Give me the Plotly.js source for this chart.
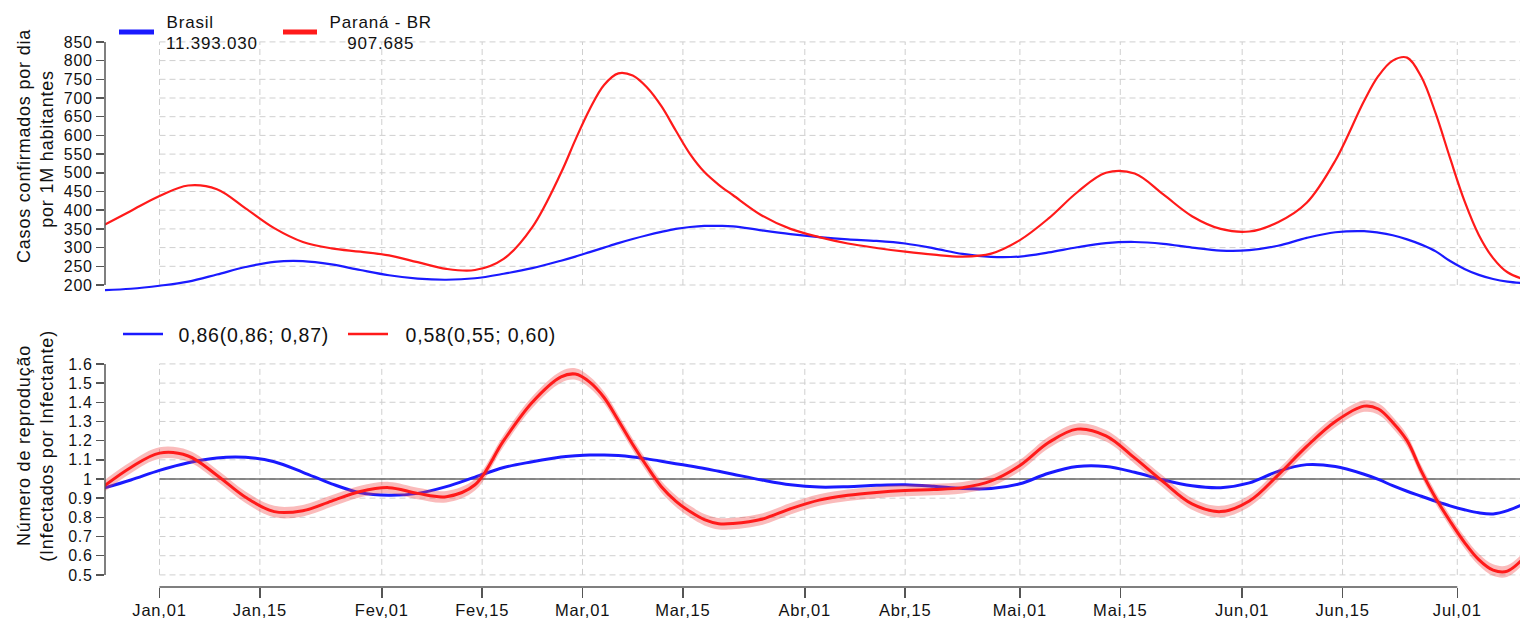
<!DOCTYPE html>
<html>
<head>
<meta charset="utf-8">
<script src="https://cdn.plot.ly/plotly-3.0.1.min.js"></script>
<style>
html,body{margin:0;padding:0;background:#fff;}
#chart{width:1520px;height:621px;}
.main-svg text{letter-spacing:0.8px;}
</style>
</head>
<body>
<div id="chart"></div>
<script>
// ---------------- DATA ----------------
const dates = ['2020-12-24','2020-12-28','2021-01-01','2021-01-05','2021-01-09','2021-01-13','2021-01-17','2021-01-21','2021-01-25','2021-01-29',
  '2021-02-02','2021-02-06','2021-02-10','2021-02-14','2021-02-18','2021-02-22','2021-02-26',
  '2021-02-28','2021-03-02','2021-03-04','2021-03-06','2021-03-08','2021-03-10','2021-03-12','2021-03-14','2021-03-16','2021-03-18','2021-03-20',
  '2021-03-22','2021-03-26','2021-03-30','2021-04-03','2021-04-07','2021-04-11','2021-04-15','2021-04-19','2021-04-23','2021-04-27',
  '2021-05-01','2021-05-05','2021-05-09','2021-05-13','2021-05-17','2021-05-21','2021-05-25','2021-05-29','2021-06-02','2021-06-06',
  '2021-06-10','2021-06-14','2021-06-18',
  '2021-06-20','2021-06-22','2021-06-24','2021-06-26','2021-06-28','2021-06-30','2021-07-02','2021-07-04','2021-07-06','2021-07-08',
  '2021-07-12'];

// Casos confirmados por dia por 1M habitantes
const casosBrasil = [186,190,198,209,228,248,262,264,255,240,226,217,214,218,230,245,265,
  276,288,300,312,323,333,342,350,355,358,358,
  357,346,336,328,322,318,311,298,283,275,276,287,301,312,315,310,300,292,293,305,326,341,344,
  340,333,322,308,290,264,243,227,216,209,
  202];
const casosParana = [358,398,438,466,456,405,352,315,298,289,279,261,243,240,270,355,500,
  588,670,735,766,760,728,678,613,550,502,468,
  440,386,350,328,311,299,289,281,276,284,320,378,448,500,498,442,384,350,343,368,420,533,692,
  759,800,808,756,658,539,425,334,272,234,
  205];

// Número de reprodução
const rtBrasil = [0.950,0.995,1.045,1.085,1.110,1.113,1.090,1.035,0.975,0.928,0.915,0.925,0.960,1.010,1.060,1.090,1.115,
  1.121,1.125,1.125,1.122,1.115,1.105,1.093,1.080,1.068,1.055,1.040,
  1.025,0.995,0.970,0.958,0.960,0.967,0.970,0.962,0.950,0.950,0.975,1.030,1.065,1.065,1.035,0.995,0.965,0.955,0.980,1.040,1.075,1.065,1.025,
  0.998,0.965,0.936,0.910,0.884,0.860,0.840,0.824,0.818,0.835,
  0.900];
const rtParana = [0.955,1.060,1.135,1.120,1.020,0.905,0.830,0.835,0.885,0.935,0.955,0.925,0.908,0.970,1.200,1.400,1.532,
  1.547,1.505,1.425,1.305,1.180,1.065,0.960,0.885,0.830,0.788,0.767,
  0.768,0.790,0.845,0.890,0.915,0.930,0.940,0.945,0.955,0.990,1.070,1.190,1.260,1.225,1.110,0.985,0.870,0.830,0.885,1.020,1.170,1.300,1.380,
  1.365,1.295,1.200,1.040,0.900,0.780,0.670,0.580,0.525,0.520,
  0.660];
const rtParanaUpper = [0.985,1.090,1.165,1.150,1.050,0.935,0.860,0.865,0.915,0.965,0.985,0.955,0.938,1.000,1.230,1.430,1.562,
  1.577,1.535,1.455,1.335,1.210,1.095,0.990,0.915,0.860,0.818,0.797,
  0.798,0.820,0.875,0.920,0.945,0.960,0.970,0.975,0.985,1.020,1.100,1.220,1.290,1.255,1.140,1.015,0.900,0.860,0.915,1.050,1.200,1.330,1.410,
  1.395,1.325,1.230,1.070,0.930,0.810,0.700,0.610,0.555,0.550,
  0.690];
const rtParanaLower = [0.925,1.030,1.105,1.090,0.990,0.875,0.800,0.805,0.855,0.905,0.925,0.895,0.878,0.940,1.170,1.370,1.502,
  1.517,1.475,1.395,1.275,1.150,1.035,0.930,0.855,0.800,0.758,0.737,
  0.738,0.760,0.815,0.860,0.885,0.900,0.910,0.915,0.925,0.960,1.040,1.160,1.230,1.195,1.080,0.955,0.840,0.800,0.855,0.990,1.140,1.270,1.350,
  1.335,1.265,1.170,1.010,0.870,0.750,0.640,0.550,0.495,0.490,
  0.630];

const seriesNames = ['Brasil','Paraná - BR'];
const totalCases = ['11.393.030','907.685'];
const rtLegend = ['0,86(0,86; 0,87)','0,58(0,55; 0,60)'];

const tickDates = ['2021-01-01','2021-01-15','2021-02-01','2021-02-15','2021-03-01','2021-03-15','2021-04-01','2021-04-15','2021-05-01','2021-05-15','2021-06-01','2021-06-15','2021-07-01'];
const tickText = ['Jan,01','Jan,15','Fev,01','Fev,15','Mar,01','Mar,15','Abr,01','Abr,15','Mai,01','Mai,15','Jun,01','Jun,15','Jul,01'];
const casosTicks = [200,250,300,350,400,450,500,550,600,650,700,750,800,850];
const rtTicks = [0.5,0.6,0.7,0.8,0.9,1,1.1,1.2,1.3,1.4,1.5,1.6];
const rtTickText = ['0.5','0.6','0.7','0.8','0.9','1','1.1','1.2','1.3','1.4','1.5','1.6'];

// ---------------- LAYOUT GEOMETRY ----------------
const W = 1520, H = 621;
const py = p => 1 - p / H;   // pixel row -> paper y
const px = p => p / W;       // pixel col -> paper x
const DAY = 86400000;
const jan1 = Date.UTC(2021,0,1);
const x0px = 159.5, pxPerDay = 7.17, leftPx = 105;
const xRange = [jan1 + (leftPx - x0px)/pxPerDay*DAY, jan1 + (W - x0px)/pxPerDay*DAY];

const topVal = p => 200 + (285 - p) / 0.374;
const topDom = [py(296), py(36)];
const topRange = [topVal(296), topVal(36)];
const botVal = p => 1 + (479 - p) / 191.8;
const botDom = [py(587), py(355)];
const botRange = [botVal(587), botVal(355)];

const BLUE = '#1a1aff', RED = '#ff1a1a';
const FONT = 'Liberation Sans, Arial, sans-serif';
const TXT = '#111';
const AXC = '#555';
const GRID = '#cfcfcf';
const SM = 1;

const traces = [
  {x: dates, y: casosBrasil, xaxis:'x', yaxis:'y', mode:'lines', line:{color:BLUE, width:2.2, shape:'spline', smoothing:SM}},
  {x: dates, y: casosParana, xaxis:'x', yaxis:'y', mode:'lines', line:{color:RED, width:2.2, shape:'spline', smoothing:SM}},
  {x: dates, y: rtBrasil, xaxis:'x', yaxis:'y2', mode:'lines', line:{color:BLUE, width:3, shape:'spline', smoothing:SM}},
  {x: dates, y: rtParanaLower, xaxis:'x', yaxis:'y2', mode:'lines', line:{width:0, shape:'spline', smoothing:SM}},
  {x: dates, y: rtParanaUpper, xaxis:'x', yaxis:'y2', mode:'lines', fill:'tonexty', fillcolor:'rgba(240,60,60,0.35)', line:{width:0, shape:'spline', smoothing:SM}},
  {x: dates, y: rtParana, xaxis:'x', yaxis:'y2', mode:'lines', line:{color:RED, width:3, shape:'spline', smoothing:SM}}
];

const shapes = [];
const dash = '6px,4px';
tickDates.forEach(d => {
  shapes.push({type:'line', layer:'below', xref:'x', yref:'y', x0:d, x1:d, y0:casosTicks[0], y1:casosTicks[casosTicks.length-1], line:{color:GRID, width:1, dash:dash}});
  shapes.push({type:'line', layer:'below', xref:'x', yref:'y2', x0:d, x1:d, y0:rtTicks[0], y1:rtTicks[rtTicks.length-1], line:{color:GRID, width:1, dash:dash}});
});
casosTicks.forEach(v => shapes.push({type:'line', layer:'below', xref:'x', yref:'y', x0:tickDates[0], x1:xRange[1], y0:v, y1:v, line:{color:GRID, width:1, dash:dash}}));
rtTicks.forEach(v => shapes.push({type:'line', layer:'below', xref:'x', yref:'y2', x0:tickDates[0], x1:xRange[1], y0:v, y1:v, line:{color:GRID, width:1, dash:dash}}));
shapes.push({type:'line', layer:'below', xref:'x', yref:'y2', x0:tickDates[0], x1:xRange[1], y0:1, y1:1, line:{color:'#222', width:1.2}});
shapes.push({type:'line', xref:'paper', yref:'y', x0:px(leftPx), x1:px(leftPx), y0:casosTicks[0], y1:casosTicks[casosTicks.length-1], line:{color:AXC, width:1.5}});
shapes.push({type:'line', xref:'paper', yref:'y2', x0:px(leftPx), x1:px(leftPx), y0:rtTicks[0], y1:rtTicks[rtTicks.length-1], line:{color:AXC, width:1.5}});
shapes.push({type:'line', xref:'x', yref:'paper', x0:tickDates[0], x1:tickDates[tickDates.length-1], y0:botDom[0], y1:botDom[0], line:{color:AXC, width:1.5}});
// legend keys
shapes.push({type:'line', xref:'paper', yref:'paper', x0:px(119), x1:px(154), y0:py(32), y1:py(32), line:{color:BLUE, width:5}});
shapes.push({type:'line', xref:'paper', yref:'paper', x0:px(283), x1:px(317), y0:py(32), y1:py(32), line:{color:RED, width:5}});
shapes.push({type:'line', xref:'paper', yref:'paper', x0:px(123), x1:px(163), y0:py(334), y1:py(334), line:{color:BLUE, width:2.5}});
shapes.push({type:'line', xref:'paper', yref:'paper', x0:px(348), x1:px(388), y0:py(334), y1:py(334), line:{color:RED, width:2.5}});

const ann = (text, x, y, opts) => Object.assign({text, xref:'paper', yref:'paper', x:px(x), y:py(y), showarrow:false, xanchor:'left', yanchor:'middle', font:{family:FONT, size:17, color:TXT}}, opts||{});
const tFont = {family:FONT, size:18, color:TXT};
const lFont = {family:FONT, size:19.5, color:TXT};
const annotations = [
  ann('Casos confirmados por dia', 24, 146, {textangle:-90, xanchor:'center', font:tFont}),
  ann('por 1M habitantes', 47, 149, {textangle:-90, xanchor:'center', font:tFont}),
  ann('Número de reprodução', 24, 446, {textangle:-90, xanchor:'center', font:tFont}),
  ann('(Infectados por Infectante)', 47, 446, {textangle:-90, xanchor:'center', font:tFont}),
  ann(seriesNames[0], 167, 22),
  ann(totalCases[0], 168, 44),
  ann(seriesNames[1], 381, 22, {xanchor:'center'}),
  ann(totalCases[1], 381, 44, {xanchor:'center'}),
  ann(rtLegend[0], 183, 335, {font:lFont}),
  ann(rtLegend[1], 410, 335, {font:lFont})
];

const layout = {
  width: W, height: H,
  margin: {l:0, r:0, t:0, b:0, pad:0},
  paper_bgcolor:'#fff', plot_bgcolor:'rgba(0,0,0,0)',
  showlegend:false,
  font:{family:FONT, color:TXT, size:16},
  xaxis: {type:'date', domain:[px(leftPx),1], range:xRange, anchor:'y2', showgrid:false, zeroline:false, showline:false,
    tickmode:'array', tickvals:tickDates, ticktext:tickText, ticks:'outside', ticklen:10, tickwidth:1.5, tickcolor:AXC,
    ticklabelstandoff:-2, tickfont:{family:FONT, size:16.5, color:TXT}},
  yaxis: {domain:topDom, range:topRange, anchor:'x', showgrid:false, zeroline:false, showline:false,
    tickmode:'array', tickvals:casosTicks, ticks:'outside', ticklen:8, tickwidth:1.5, tickcolor:AXC,
    tickfont:{family:FONT, size:16, color:TXT}},
  yaxis2: {domain:botDom, range:botRange, anchor:'x', showgrid:false, zeroline:false, showline:false,
    tickmode:'array', tickvals:rtTicks, ticktext:rtTickText, ticks:'outside', ticklen:8, tickwidth:1.5, tickcolor:AXC,
    tickfont:{family:FONT, size:16, color:TXT}},
  shapes, annotations
};

Plotly.newPlot('chart', traces, layout, {staticPlot:true, displayModeBar:false});
</script>
</body>
</html>
